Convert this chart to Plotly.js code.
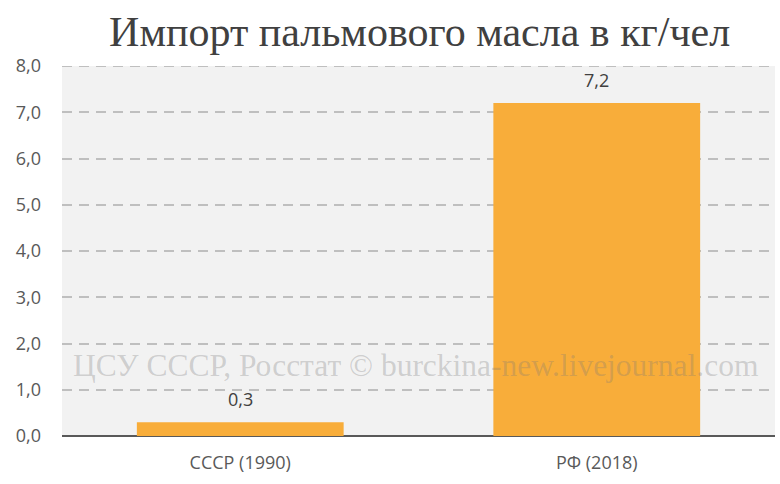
<!DOCTYPE html>
<html>
<head>
<meta charset="utf-8">
<script src="https://cdn.plot.ly/plotly-3.0.1.min.js"></script>
<style>
  html, body { margin: 0; padding: 0; background: #fff; }
  #chart { width: 780px; height: 484px; }
</style>
</head>
<body>
<div id="chart"></div>
<script>
const categories = ['СССР (1990)', 'РФ (2018)'];
const importKgPerPerson = [0.3, 7.2];
const yTicks = [0, 1, 2, 3, 4, 5, 6, 7, 8];

const trace = {
  type: 'bar',
  x: categories,
  y: importKgPerPerson,
  marker: { color: '#F8AD3A' },
  width: 0.58,
  hoverinfo: 'none'
};

// value labels above the bars
const valueLabels = categories.map((c, i) => ({
  x: c,
  y: importKgPerPerson[i],
  xref: 'x',
  yref: 'y',
  text: importKgPerPerson[i].toFixed(1).replace('.', ','),
  showarrow: false,
  yanchor: 'middle',
  yshift: 23,
  font: { family: 'Open Sans, sans-serif', size: 18, color: '#404040' }
}));

const layout = {
  width: 780,
  height: 484,
  margin: { l: 62, r: 5, t: 66, b: 48 },
  paper_bgcolor: '#FFFFFF',
  plot_bgcolor: '#F2F2F2',
  separators: ',.',
  showlegend: false,
  title: {
    text: 'Импорт пальмового масла в кг/чел',
    font: { family: 'Liberation Serif, serif', size: 42, color: '#404040' },
    x: 0.538,
    xanchor: 'center',
    y: 0.936,
    yanchor: 'middle'
  },
  xaxis: {
    tickfont: { family: 'Open Sans, sans-serif', size: 18, color: '#595959' },
    showgrid: false,
    showline: false,
    ticks: '',
    ticklabelstandoff: 14,
    fixedrange: true
  },
  yaxis: {
    range: [0, 8],
    tickvals: yTicks,
    tickformat: '.1f',
    tickfont: { family: 'Open Sans, sans-serif', size: 18, color: '#595959' },
    showgrid: true,
    gridcolor: '#BFBFBF',
    gridwidth: 2,
    griddash: '10px,7px',
    zeroline: true,
    zerolinecolor: '#595959',
    zerolinewidth: 2,
    showline: false,
    ticks: '',
    ticklabelstandoff: 20,
    fixedrange: true
  },
  shapes: [{
    type: 'line',
    xref: 'paper',
    yref: 'y',
    x0: 0,
    x1: 1,
    y0: yTicks[yTicks.length - 1],
    y1: yTicks[yTicks.length - 1],
    line: { color: '#BFBFBF', width: 2, dash: '10px,7px' }
  }],
  annotations: valueLabels.concat([{
    text: 'ЦСУ СССР, Росстат © burckina-new.livejournal.com',
    xref: 'paper',
    yref: 'y',
    x: 0.497,
    y: 1.52,
    xanchor: 'center',
    yanchor: 'middle',
    showarrow: false,
    font: { family: 'Liberation Serif, serif', size: 31.5, color: 'rgba(120,120,120,0.3)' }
  }])
};

Plotly.newPlot('chart', [trace], layout, { displayModeBar: false, staticPlot: true });
</script>
</body>
</html>
